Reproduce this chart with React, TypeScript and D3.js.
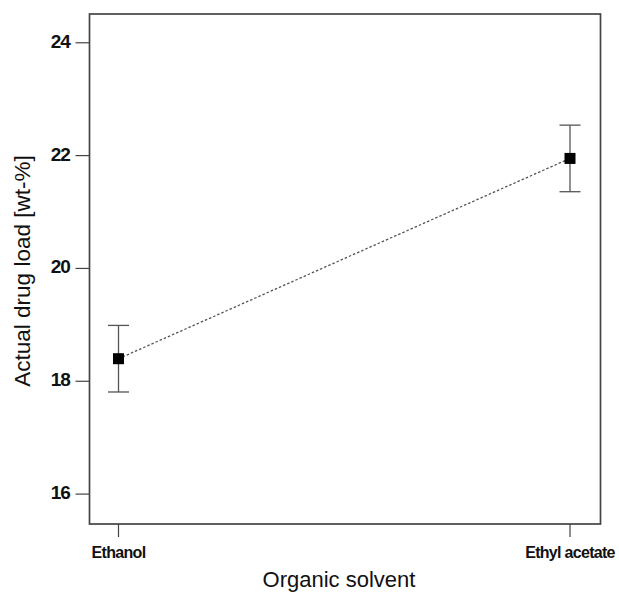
import React from "react";
import * as d3 from "d3";

const categories = ["Ethanol", "Ethyl acetate"];
const means = [18.4, 21.95];
const errors = [0.59, 0.59];
const yTicks = [16, 18, 20, 22, 24];

export default function App() {
  const W = 619, H = 592;
  const left = 89.5, right = 600.5, top = 14, bottom = 524;
  const y = d3.scaleLinear().domain([15.47, 24.51]).range([bottom, top]);
  const x = d3.scalePoint().domain(categories).range([118.5, 570]);
  const pts = categories.map((c, i) => ({ c, m: means[i], e: errors[i] }));
  const line = d3.line<{ c: string; m: number }>().x(d => x(d.c)!).y(d => y(d.m));
  return (
    <svg width={W} height={H} style={{ position: "absolute", left: 0, top: 0 }} fontFamily="Liberation Sans, Arial, sans-serif">
      <rect x={0} y={0} width={W} height={H} fill="#fff" />
      <rect x={left} y={top} width={right - left} height={bottom - top} fill="none" stroke="#444" strokeWidth={1.7} />
      {yTicks.map(t => (
        <g key={t}>
          <line x1={left - 14} x2={left} y1={y(t)} y2={y(t)} stroke="#444" strokeWidth={1.2} />
          <text x={left - 20} y={y(t) + 5} textAnchor="end" fontSize={19} fontWeight="bold" fill="#111" letterSpacing={-1.2}>{t}</text>
        </g>
      ))}
      {categories.map(c => (
        <g key={c}>
          <line x1={x(c)} x2={x(c)} y1={bottom} y2={bottom + 13} stroke="#444" strokeWidth={1.2} />
          <text x={x(c)} y={557.5} textAnchor="middle" fontSize={16} fontWeight="bold" fill="#111" letterSpacing={-0.7}>{c}</text>
        </g>
      ))}
      <path d={line(pts)!} fill="none" stroke="#555" strokeWidth={1.3} strokeDasharray="2.5,2" />
      {pts.map(p => {
        const cx = x(p.c)!;
        return (
          <g key={p.c}>
            <line x1={cx} x2={cx} y1={y(p.m + p.e)} y2={y(p.m - p.e)} stroke="#555" strokeWidth={1.3} />
            <line x1={cx - 10.5} x2={cx + 10.5} y1={y(p.m + p.e)} y2={y(p.m + p.e)} stroke="#555" strokeWidth={1.3} />
            <line x1={cx - 10.5} x2={cx + 10.5} y1={y(p.m - p.e)} y2={y(p.m - p.e)} stroke="#555" strokeWidth={1.3} />
            <rect x={cx - 5.5} y={y(p.m) - 5.5} width={11} height={11} fill="#000" />
          </g>
        );
      })}
      <text transform={`translate(30,${(top + bottom) / 2 + 2}) rotate(-90)`} textAnchor="middle" fontSize={22.5} fill="#111">Actual drug load [wt-%]</text>
      <text x={339} y={587} textAnchor="middle" fontSize={22} fill="#111">Organic solvent</text>
    </svg>
  );
}
